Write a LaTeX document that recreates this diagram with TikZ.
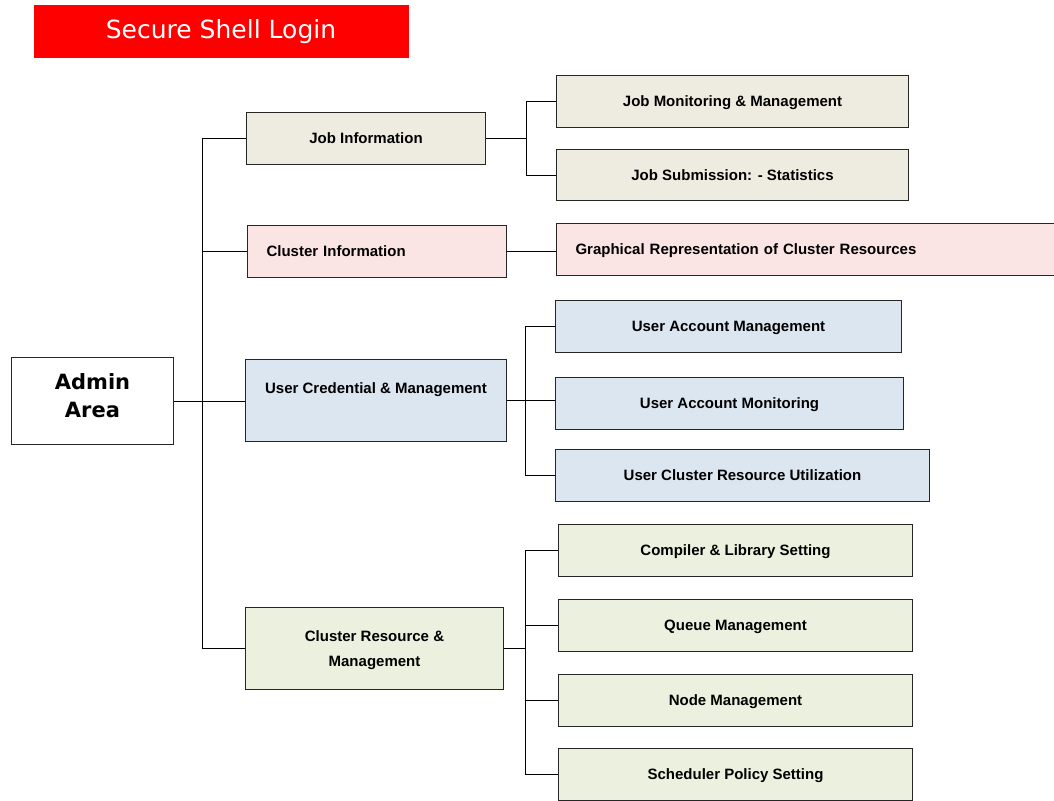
\documentclass[tikz,border=0pt]{standalone}
\usepackage{fontspec}
\setmainfont{Liberation Sans}
\newfontfamily\verdana{DejaVu Sans}
\usepackage{xcolor}
\usepackage{tikz}
\definecolor{jobc}{HTML}{EEECE1}
\definecolor{clusc}{HTML}{FBE5E4}
\definecolor{userc}{HTML}{DCE6F1}
\definecolor{resc}{HTML}{EBF1DE}
\definecolor{loginred}{HTML}{FF0000}
\tikzset{
	box/.style={draw=black!85,line width=1pt,inner sep=0pt,minimum height=52pt,text depth=0pt,
		align=center,font=\bfseries\fontsize{15}{25}\selectfont},
	leftbox/.style={box,align=left,inner xsep=19pt},
	link/.style={line width=1pt}
}

\begin{document}
\begin{tikzpicture}[x=1pt,y=-1pt]
					\useasboundingbox (0,0) rectangle (1054,800);
					\begin{scope}[shift={(0.5,0.5)}]
					\node[fill=loginred,text=white,minimum width=375pt,minimum height=53pt,inner sep=0pt,font=\verdana\fontsize{25}{30}\selectfont] (login) at (220.5,31.5) {Secure Shell Login};
					\node[box,fill=white,minimum width=162pt,minimum height=87pt,text depth=10pt,font=\verdana\bfseries\fontsize{21}{28}\selectfont] (admin) at (92,400.5) {Admin\\Area};
					\node[box,fill=jobc,minimum width=239pt] (job) at (365.5,138) {Job Information};
					\node[leftbox,fill=clusc,text width=221pt] (cinfo) at (376.5,251) {Cluster Information};
					\node[box,fill=userc,minimum width=261pt,minimum height=82pt] (ucred) at (375.5,400) {User Credential \& Management\\ ~};
					\node[box,fill=resc,minimum width=258pt,minimum height=82pt] (cres) at (374,648) {Cluster Resource \&\\Management};
					\node[box,fill=jobc,minimum width=352pt] (jmon) at (732,101) {Job Monitoring \& Management};
					\node[box,fill=jobc,minimum width=352pt,minimum height=51pt] (jsub) at (732,174.5) {Job Submission: - Statistics};
					\node[leftbox,fill=clusc,text width=468pt] (graph) at (809,249) {Graphical Representation of Cluster Resources};
					\node[box,fill=userc,minimum width=346pt] (uam) at (728,326) {User Account Management};
					\node[box,fill=userc,minimum width=348pt] (uamon) at (729,403) {User Account Monitoring};
					\node[box,fill=userc,minimum width=374pt] (ucru) at (742,475) {User Cluster Resource Utilization};
					\node[box,fill=resc,minimum width=354pt] (comp) at (735,550) {Compiler \& Library Setting};
					\node[box,fill=resc,minimum width=354pt] (queue) at (735,625) {Queue Management};
					\node[box,fill=resc,minimum width=354pt] (nodem) at (735,700) {Node Management};
					\node[box,fill=resc,minimum width=354pt] (sched) at (735,774) {Scheduler Policy Setting};
					\coordinate (trunk) at (202,400);
					\coordinate (jb) at (526,138);
					\coordinate (ub) at (525,400);
					\coordinate (rb) at (525,648);
					\draw[link] (admin.east) -- (admin.east -| ucred.west);
					\draw[link] (job.west) -| (trunk) |- (cres.west);
					\draw[link] (cinfo.west) -- (cinfo.west -| trunk);
					\draw[link] (job.east) -- (jb);
					\draw[link] (jmon.west) -| (jb) |- (jsub.west);
					\draw[link] (cinfo.east) -- (cinfo.east -| graph.west);
					\draw[link] (ucred.east) -- (ub);
					\draw[link] (uam.west) -| (ub) |- (ucru.west);
					\draw[link] (ub) -- (ub -| uamon.west);
					\draw[link] (cres.east) -- (rb);
					\draw[link] (comp.west) -| (rb) |- (sched.west);
					\draw[link] (queue.west) -- (queue.west -| rb);
					\draw[link] (nodem.west) -- (nodem.west -| rb);
					\end{scope}
				\end{tikzpicture}
\end{document}
